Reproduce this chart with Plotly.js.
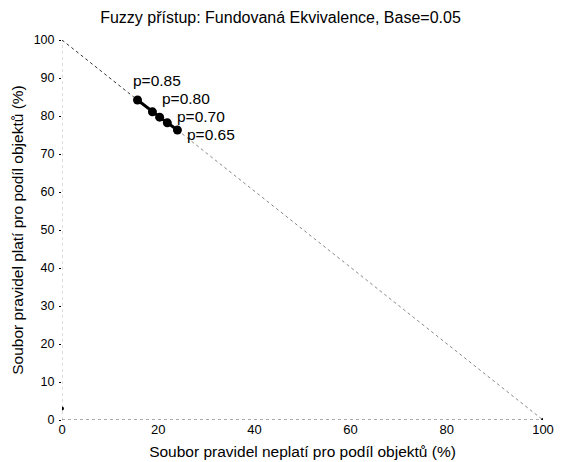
<!DOCTYPE html>
<html>
<head>
<meta charset="utf-8">
<script src="https://cdn.plot.ly/plotly-3.0.1.min.js"></script>
<style>html,body{margin:0;padding:0;background:#fff;}#chart{width:561px;height:462px;}</style>
</head>
<body>
<div id="chart"></div>
<script>
// Operating points (x = % objects where rules fail, y = % objects where rules hold)
const pointX = [15.7, 18.8, 20.3, 21.9, 24.0];
const pointY = [84.2, 81.1, 79.7, 78.2, 76.3];
// Labelled points
const labelX = [15.7, 18.8, 21.9, 24.0];
const labelY = [84.2, 81.1, 78.2, 76.3];
const labelText = ["p=0.85", "p=0.80", "p=0.70", "p=0.65"];

// Dotted diagonal segments
const upperLineX = [0, 15.7];
const upperLineY = [100, 84.2];
const lowerLineX = [24.0, 100];
const lowerLineY = [76.3, 0];
// Baseline and left boundary
const baseLineX = [0, 100];
const baseLineY = [0, 0];
const leftLineX = [0, 0];
const leftLineY = [0, 100];
const endX = [0, 100];
const endY = [3, 0];

const xTicks = [0, 20, 40, 60, 80, 100];
const yTicks = [0, 10, 20, 30, 40, 50, 60, 70, 80, 90, 100];

const font = "Liberation Sans, Arial, sans-serif";

const traces = [
  {x: leftLineX, y: leftLineY, mode: "lines", line: {color: "#bbbbbb", width: 1, dash: "dot"}, hoverinfo: "skip"},
  {x: baseLineX, y: baseLineY, mode: "lines", line: {color: "#555555", width: 1, dash: "dot"}, hoverinfo: "skip"},
  {x: upperLineX, y: upperLineY, mode: "lines", line: {color: "#333333", width: 1, dash: "dot"}, hoverinfo: "skip"},
  {x: lowerLineX, y: lowerLineY, mode: "lines", line: {color: "#888888", width: 1, dash: "dot"}, hoverinfo: "skip"},
  {x: endX, y: endY, mode: "markers", marker: {color: "#000", size: 4}, hoverinfo: "skip"},
  {x: pointX, y: pointY, mode: "lines+markers",
   line: {color: "#000", width: 3},
   marker: {color: "#000", size: 9}}
];

// pixel offsets of each label's left edge / middle from its point
const shiftX = [-6, 9, 9, 9];
const shiftY = [20, 13, 6, -4];

const annotations = labelText.map((t, i) => ({
  x: labelX[i], y: labelY[i], xref: "x", yref: "y", text: t, showarrow: false,
  xanchor: "left", yanchor: "middle", xshift: shiftX[i], yshift: shiftY[i], borderpad: 0,
  font: {family: font, size: 15.5, color: "#000"}
}));

const layout = {
  width: 561, height: 462,
  margin: {l: 62, r: 18, t: 40, b: 42},
  paper_bgcolor: "#fff", plot_bgcolor: "#fff",
  showlegend: false,
  annotations: annotations,
  font: {family: font, size: 12, color: "#000"},
  title: {text: "Fuzzy přístup: Fundovaná Ekvivalence, Base=0.05", x: 0.5, xanchor: "center", y: 0.962, yanchor: "middle",
          font: {family: font, size: 16, color: "#000"}},
  xaxis: {range: [0, 100], tickvals: xTicks, ticktext: xTicks.map(String), showgrid: false, zeroline: false, showline: false,
          ticks: "", tickfont: {family: font, size: 13}, fixedrange: true,
          title: {text: "Soubor pravidel neplatí pro podíl objektů (%)", standoff: 10, font: {family: font, size: 15.5}}},
  yaxis: {range: [0, 100], tickvals: yTicks, ticktext: yTicks.map(String), showgrid: false, zeroline: false, showline: false,
          ticks: "outside", ticklen: 2, tickcolor: "#000", ticklabelstandoff: 2, tickfont: {family: font, size: 12.5}, fixedrange: true,
          title: {text: "Soubor pravidel platí pro podíl objektů (%)", standoff: 6, font: {family: font, size: 15.5}}}
};

Plotly.newPlot("chart", traces, layout, {displayModeBar: false, staticPlot: true});
</script>
</body>
</html>
